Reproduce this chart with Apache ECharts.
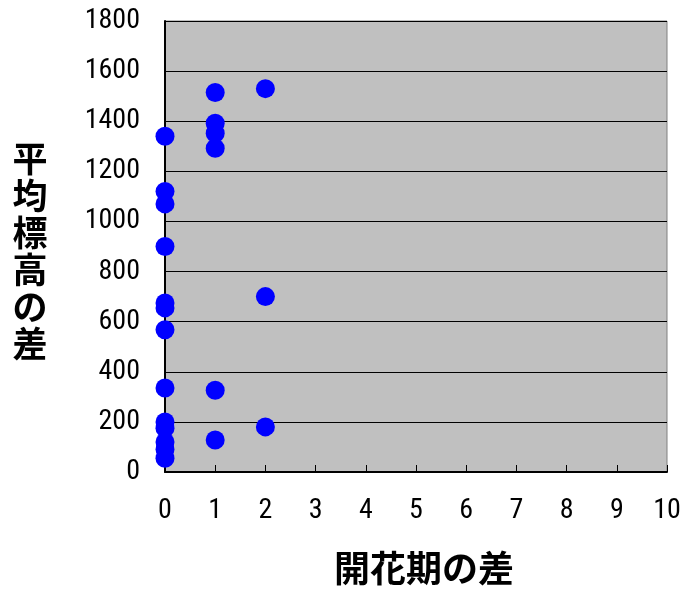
<!DOCTYPE html>
<html>
<head>
<meta charset="utf-8">
<script src="https://cdn.jsdelivr.net/npm/echarts@6/dist/echarts.min.js"></script>
<style>
  html, body { margin: 0; padding: 0; background: #ffffff; }
  #chart { width: 686px; height: 591px; }
</style>
</head>
<body>
<div id="chart"></div>
<script>
// Difference in flowering period (x) vs. difference in mean elevation (y)
const floweringDiff = [0, 0, 0, 0, 0, 0, 0, 0, 0, 0, 0, 0, 0,
                       1, 1, 1, 1, 1, 1,
                       2, 2, 2];
const elevationDiff = [1340, 1120, 1070, 900, 675, 655, 568, 335, 200, 175, 120, 90, 55,
                       1515, 1392, 1352, 1292, 326, 128,
                       1530, 700, 180];

const xTitle = '開花期の差';
const yTitle = '平均標高の差';

const points = floweringDiff.map((x, i) => [x, elevationDiff[i]]);

const tickFont = {
  color: '#000000',
  fontFamily: '"Roboto Condensed", "DejaVu Sans Condensed", sans-serif',
  fontSize: 28,
  formatter: (v) => String(v)
};

const chart = echarts.init(document.getElementById('chart'), null, { renderer: 'canvas' });
chart.setOption({
  animation: false,
  backgroundColor: '#ffffff',
  grid: {
    left: 165, right: 19, top: 21, bottom: 119,
    containLabel: false,
    show: true,
    backgroundColor: '#c0c0c0',
    borderColor: '#808080',
    borderWidth: 1
  },
  xAxis: {
    type: 'value',
    min: 0, max: 10, interval: 1,
    axisLine: { show: true, onZero: false, lineStyle: { color: '#000000', width: 2 } },
    axisTick: { show: true, inside: true, length: 7, lineStyle: { color: '#000000', width: 1 } },
    axisLabel: Object.assign({ margin: 25 }, tickFont),
    splitLine: { show: false }
  },
  yAxis: {
    type: 'value',
    min: 0, max: 1800, interval: 200,
    axisLine: { show: true, onZero: false, lineStyle: { color: '#000000', width: 2 } },
    axisTick: { show: true, inside: true, length: 8, lineStyle: { color: '#000000', width: 1 } },
    axisLabel: Object.assign({ margin: 25 }, tickFont),
    splitLine: { show: true, lineStyle: { color: '#000000', width: 1 } }
  },
  graphic: [
    {
      type: 'text',
      x: 424, y: 568,
      style: {
        text: xTitle,
        fill: '#000000',
        font: 'bold 36px "Noto Sans CJK JP", sans-serif',
        align: 'center',
        verticalAlign: 'middle'
      }
    },
    {
      type: 'text',
      x: 30, y: 251,
      style: {
        text: yTitle.split('').join('\n'),
        fill: '#000000',
        font: 'bold 35px "Noto Sans CJK JP", sans-serif',
        lineHeight: 37,
        align: 'center',
        verticalAlign: 'middle'
      }
    }
  ],
  series: [{
    type: 'scatter',
    data: points,
    symbol: 'circle',
    symbolSize: 19,
    itemStyle: { color: '#0000ff', opacity: 1 },
    clip: false
  }]
});
</script>
</body>
</html>
